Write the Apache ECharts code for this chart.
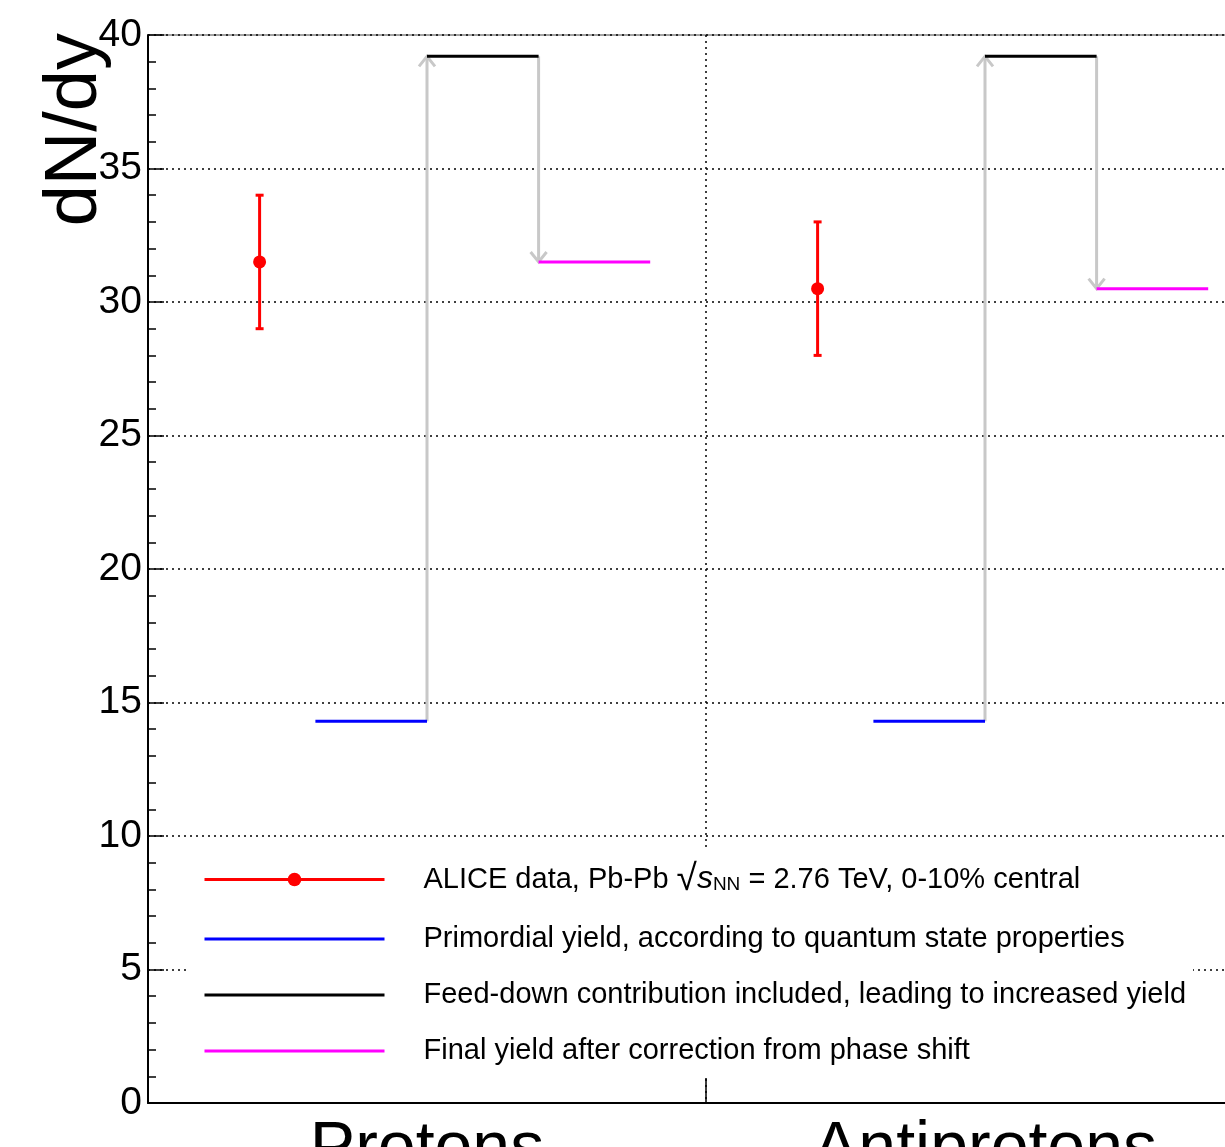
<!DOCTYPE html>
<html>
<head>
<meta charset="utf-8">
<script src="https://cdn.jsdelivr.net/npm/echarts@6/dist/echarts.min.js"></script>
<style>
html,body{margin:0;padding:0;background:#fff;}
#chart{width:1225px;height:1147px;}
</style>
</head>
<body>
<div id="chart"></div>
<script>
// ---- data ----
const categories = ['Protons', 'Antiprotons'];
const yTicks = [0, 5, 10, 15, 20, 25, 30, 35, 40];
// ALICE measurement (per category)
const dataX = [0.2, 1.2];
const dataY = [31.5, 30.5];
const dataLow = [29.0, 28.0];
const dataHigh = [34.0, 33.0];
// model steps (per category)
const primordial = [14.3, 14.3];
const feedDown = [39.2, 39.2];
const finalYield = [31.5, 30.5];
// x-extent of each step inside a category (fraction of category)
const primordialRange = [0.3, 0.5];
const feedDownRange = [0.5, 0.7];
const finalRange = [0.7, 0.9];
const legendNames = [
  'ALICE data, Pb-Pb √sNN = 2.76 TeV, 0-10% central',
  'Primordial yield, according to quantum state properties',
  'Feed-down contribution included, leading to increased yield',
  'Final yield after correction from phase shift'
];

const FONT = 'Liberation Sans, Arial, Helvetica, sans-serif';

function segments(values, range) {
  const out = [];
  values.forEach((v, i) => {
    if (i > 0) out.push([i, null]);
    out.push([i + range[0], v]);
    out.push([i + range[1], v]);
  });
  return out;
}
function points(xs, ys) {
  const out = [];
  xs.forEach((x, i) => {
    if (i > 0) out.push([(xs[i - 1] + x) / 2, null]);
    out.push([x, ys[i]]);
  });
  return out;
}
const errData = dataX.map((x, i) => [x, dataLow[i], dataHigh[i]]);
const arrowData = [];
primordial.forEach((v, i) => {
  arrowData.push([i + primordialRange[1], primordial[i], feedDown[i]]);
  arrowData.push([i + feedDownRange[1], feedDown[i], finalYield[i]]);
});

const chart = echarts.init(document.getElementById('chart'));
const noSym = { opacity: 0 };
const option = {
  backgroundColor: '#fff',
  animation: false,
  textStyle: { fontFamily: FONT },
  grid: { left: 148, top: 35, width: 1116, height: 1068, outerBoundsMode: 'none', containLabel: false,
    show: true, borderColor: '#444', borderWidth: 1, backgroundColor: 'transparent' },
  xAxis: [
    {
      type: 'value', min: 0, max: 2, interval: 1, position: 'bottom',
      axisLine: { show: true, onZero: false, lineStyle: { color: '#000', width: 2 } },
      axisTick: { show: true, inside: true, length: 25, lineStyle: { color: '#000', width: 1.5 } },
      axisLabel: { show: false },
      splitLine: { show: true, lineStyle: { color: '#000', width: 1.5, type: [2, 4] } }
    },
    {
      type: 'category', data: categories, position: 'bottom', boundaryGap: true,
      axisLine: { show: false }, axisTick: { show: false },
      axisLabel: { show: true, fontSize: 68, color: '#000', margin: 13, fontFamily: FONT },
      splitLine: { show: false }
    }
  ],
  yAxis: {
    type: 'value', min: 0, max: 40, interval: 5,
    axisLine: { show: true, lineStyle: { color: '#000', width: 2 } },
    axisTick: { show: true, inside: true, length: 16, lineStyle: { color: '#000', width: 1.5 } },
    minorTick: { show: true, splitNumber: 5, length: 8, lineStyle: { color: '#000', width: 1.5 } },
    axisLabel: { fontSize: 39, color: '#000', margin: 6, fontFamily: FONT,
      formatter: v => yTicks.indexOf(v) >= 0 ? String(v) : '' },
    splitLine: { show: true, lineStyle: { color: '#000', width: 1.5, type: [2, 4] } }
  },
  legend: {
    orient: 'vertical', left: 190, top: 851,
    backgroundColor: '#fff',
    padding: [10, 7, 11, 13],
    itemWidth: 180, itemHeight: 17, itemGap: 26,
    selectedMode: false,
    lineStyle: { width: 3 },
    data: [
      { name: legendNames[0] },
      { name: legendNames[1], itemStyle: noSym },
      { name: legendNames[2], itemStyle: noSym },
      { name: legendNames[3], itemStyle: noSym }
    ],
    textStyle: {
      fontSize: 29, color: '#000', lineHeight: 30, padding: [0, 0, 0, 34], fontFamily: FONT,
      rich: {
        t: { fontSize: 29, color: '#000', lineHeight: 30, fontFamily: FONT },
        sq: { fontSize: 37, color: '#000', lineHeight: 30, fontFamily: FONT },
        s: { fontSize: 32, color: '#000', lineHeight: 30, fontStyle: 'italic', fontFamily: FONT },
        sub: { fontSize: 19, color: '#000', lineHeight: 8, verticalAlign: 'bottom', fontFamily: FONT }
      }
    },
    formatter: function (name) {
      if (name === legendNames[0]) {
        return '{t|ALICE data, Pb-Pb }{sq|√}{s|s}{sub|NN}{t| = 2.76 TeV, 0-10% central}';
      }
      return '{t|' + name + '}';
    }
  },
  series: [
    {
      type: 'custom', name: 'arrows', xAxisIndex: 0, z: 2, silent: true,
      data: arrowData,
      renderItem: function (params, api) {
        const x = api.value(0), y0 = api.value(1), y1 = api.value(2);
        const a = api.coord([x, y0]), b = api.coord([x, y1]);
        const dir = b[1] < a[1] ? 1 : -1;
        const st = { stroke: '#c8c8c8', lineWidth: 3, fill: null };
        return {
          type: 'group', children: [
            { type: 'line', shape: { x1: a[0], y1: a[1], x2: b[0], y2: b[1] }, style: st },
            { type: 'polyline', shape: { points: [[b[0] - 8, b[1] + dir * 10], [b[0], b[1]], [b[0] + 8, b[1] + dir * 10]] }, style: st }
          ]
        };
      }
    },
    {
      type: 'custom', name: 'errors', xAxisIndex: 0, z: 4, silent: true,
      data: errData,
      renderItem: function (params, api) {
        const x = api.value(0);
        const lo = api.coord([x, api.value(1)]), hi = api.coord([x, api.value(2)]);
        const st = { stroke: '#ff0000', lineWidth: 3 };
        return {
          type: 'group', children: [
            { type: 'line', shape: { x1: lo[0], y1: lo[1], x2: hi[0], y2: hi[1] }, style: st },
            { type: 'line', shape: { x1: lo[0] - 4, y1: lo[1], x2: lo[0] + 4, y2: lo[1] }, style: st },
            { type: 'line', shape: { x1: hi[0] - 4, y1: hi[1], x2: hi[0] + 4, y2: hi[1] }, style: st }
          ]
        };
      }
    },
    {
      name: legendNames[0], type: 'line', xAxisIndex: 0, z: 5,
      data: points(dataX, dataY),
      symbol: 'circle', symbolSize: 13, showSymbol: true, showAllSymbol: true,
      itemStyle: { color: '#ff0000' }, lineStyle: { color: '#ff0000', width: 3 }
    },
    {
      name: legendNames[1], type: 'line', xAxisIndex: 0, z: 5,
      data: segments(primordial, primordialRange), showSymbol: false, symbol: 'none',
      itemStyle: { color: '#0000ff' }, lineStyle: { color: '#0000ff', width: 3 }
    },
    {
      name: legendNames[2], type: 'line', xAxisIndex: 0, z: 5,
      data: segments(feedDown, feedDownRange), showSymbol: false, symbol: 'none',
      itemStyle: { color: '#000000' }, lineStyle: { color: '#000000', width: 3 }
    },
    {
      name: legendNames[3], type: 'line', xAxisIndex: 0, z: 5,
      data: segments(finalYield, finalRange), showSymbol: false, symbol: 'none',
      itemStyle: { color: '#ff00ff' }, lineStyle: { color: '#ff00ff', width: 3 }
    }
  ],
  graphic: [
    {
      type: 'text', left: 39, top: 33, rotation: Math.PI / 2, silent: true,
      style: { text: 'dN/dy', fontSize: 74, fill: '#000', fontFamily: FONT }
    }
  ]
};
chart.setOption(option);
</script>
</body>
</html>
